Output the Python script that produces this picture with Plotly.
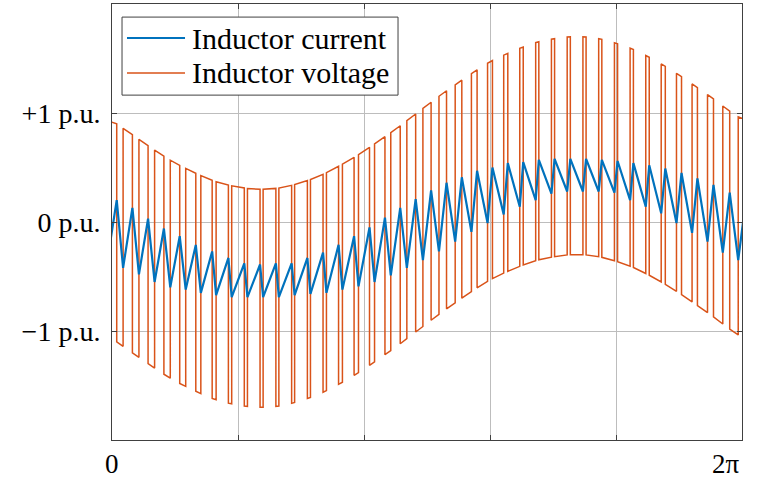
import numpy as np
import plotly.graph_objects as go

# ---- data (one value per switching period k = 0..40) ----
n_periods = 40
upper_env = [0.93, 0.83, 0.73, 0.63, 0.54, 0.47, 0.40, 0.35, 0.32, 0.30, 0.30, 0.32, 0.36, 0.41,
             0.48, 0.56, 0.65, 0.75, 0.85, 0.96, 1.07, 1.18, 1.28, 1.38, 1.47, 1.54, 1.60, 1.65,
             1.68, 1.70, 1.70, 1.68, 1.64, 1.59, 1.52, 1.44, 1.35, 1.25, 1.15, 1.04, 0.94]
lower_env = [-1.07, -1.17, -1.27, -1.37, -1.46, -1.53, -1.60, -1.65, -1.68, -1.70, -1.70, -1.68,
             -1.64, -1.59, -1.52, -1.44, -1.35, -1.25, -1.15, -1.04, -0.93, -0.82, -0.72, -0.62,
             -0.53, -0.46, -0.40, -0.35, -0.32, -0.30, -0.30, -0.32, -0.36, -0.41, -0.48, -0.56,
             -0.65, -0.75, -0.85, -0.96, -1.06]
duty = [0.60, 0.59, 0.58, 0.59, 0.60, 0.64, 0.72, 0.78, 0.80, 0.80, 0.81, 0.81, 0.81, 0.80,
        0.77, 0.74, 0.70, 0.66, 0.60, 0.56, 0.52, 0.48, 0.42, 0.36, 0.31, 0.26, 0.22, 0.20,
        0.20, 0.20, 0.20, 0.20, 0.20, 0.21, 0.22, 0.26, 0.32, 0.34, 0.38, 0.44, 0.48]
i_trough = [-0.36, -0.42, -0.48, -0.55, -0.60, -0.62, -0.65, -0.67, -0.69, -0.69, -0.69, -0.69,
            -0.67, -0.66, -0.65, -0.62, -0.59, -0.55, -0.49, -0.42, -0.35, -0.27, -0.18, -0.09,
            -0.01, 0.07, 0.14, 0.20, 0.26, 0.28, 0.28, 0.28, 0.27, 0.20, 0.14, 0.08, -0.01,
            -0.10, -0.18, -0.28, -0.35]
i_peak = [0.20, 0.13, 0.03, -0.06, -0.13, -0.21, -0.27, -0.33, -0.38, -0.39, -0.38, -0.38,
          -0.33, -0.28, -0.21, -0.13, -0.05, 0.04, 0.13, 0.21, 0.29, 0.36, 0.41, 0.47, 0.50,
          0.54, 0.55, 0.57, 0.58, 0.58, 0.58, 0.57, 0.56, 0.54, 0.52, 0.49, 0.45, 0.40, 0.34,
          0.27, 0.20]
y_tick_vals = [-1, 0, 1]
y_tick_text = ["\u22121 p.u.", "0 p.u.", "+1 p.u."]
x_tick_text = ["0", "2\u03c0"]
series_names = ["Inductor current", "Inductor voltage"]

BLUE = "#0072BD"
ORANGE = "#D95319"
FONT = "Liberation Serif, Times New Roman, serif"

T = 2 * np.pi / n_periods
theta_k = np.arange(len(duty)) * T

vx, vy, ix, iy = [], [], [], []
for k in range(len(duty)):
    a = theta_k[k] - duty[k] * T / 2
    b = theta_k[k] + duty[k] * T / 2
    ua, ub = np.interp([a, b], theta_k, upper_env)
    la, lb = np.interp([a, b], theta_k, lower_env)
    vx += [a, a, b, b]
    vy += [la, ua, ub, lb]
    ix += [a, b]
    iy += [i_trough[k], i_peak[k]]

fig = go.Figure()
fig.add_trace(go.Scatter(x=vx, y=vy, mode="lines", name=series_names[1],
                         line=dict(color=ORANGE, width=1.5), showlegend=False))
fig.add_trace(go.Scatter(x=ix, y=iy, mode="lines", name=series_names[0],
                         line=dict(color=BLUE, width=2.2), showlegend=False))

x_grid = [2 * np.pi * j / 5 for j in range(6)]
fig.update_xaxes(range=[0, 2 * np.pi], tickvals=x_grid, ticktext=[""] * 6,
                 showgrid=True, gridcolor="#bdbdbd", gridwidth=1,
                 showline=True, linecolor="#404040", linewidth=1, mirror="ticks",
                 ticks="inside", ticklen=5, tickcolor="#404040", zeroline=False)
fig.update_yaxes(range=[-2, 2], tickvals=y_tick_vals, ticktext=y_tick_text,
                 showgrid=True, gridcolor="#bdbdbd", gridwidth=1,
                 showline=True, linecolor="#404040", linewidth=1, mirror="ticks",
                 ticks="inside", ticklen=5, tickcolor="#404040", zeroline=False,
                 ticklabelstandoff=5,
                 tickfont=dict(family=FONT, size=28, color="black"))

# x tick labels at the ends
fig.add_annotation(x=0, y=0, xref="x", yref="paper", text=x_tick_text[0], showarrow=False,
                   xanchor="center", yanchor="middle", yshift=-24,
                   font=dict(family=FONT, size=27, color="black"))
fig.add_annotation(x=2 * np.pi, y=0, xref="x", yref="paper", text=x_tick_text[1], showarrow=False,
                   xanchor="right", yanchor="middle", yshift=-24,
                   font=dict(family=FONT, size=27, color="black"))

# legend box
fig.add_shape(type="rect", xref="paper", yref="paper", x0=0.0159, x1=0.454, y0=0.791, y1=0.970,
              line=dict(color="#404040", width=1), fillcolor="white", layer="above")
leg_y = [0.922, 0.842]
leg_c = [BLUE, ORANGE]
for name, yy, cc, w in zip(series_names, leg_y, leg_c, [2.2, 1.5]):
    fig.add_shape(type="line", xref="paper", yref="paper", x0=0.0238, x1=0.1159, y0=yy, y1=yy,
                  line=dict(color=cc, width=w), layer="above")
    fig.add_annotation(x=0.1238, y=yy, xref="paper", yref="paper", text=name, showarrow=False,
                       xanchor="left", yanchor="middle",
                       font=dict(family=FONT, size=30, color="black"))

fig.update_layout(width=765, height=480, margin=dict(l=112, r=23, t=4, b=40),
                  paper_bgcolor="white", plot_bgcolor="white", showlegend=False)

fig.write_html("out.html")
